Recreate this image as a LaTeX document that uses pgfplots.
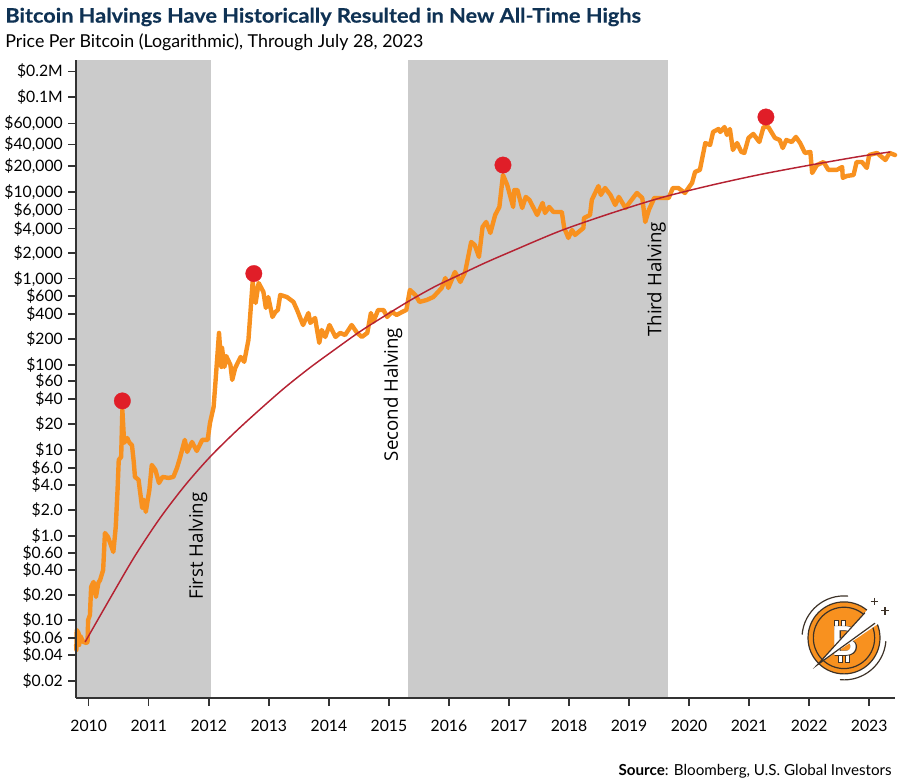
\documentclass[border=0pt]{standalone}
\usepackage{fontspec}
\setmainfont{Lato}
\newfontfamily\titlefont[BoldFeatures={FakeStretch=1.085,FakeBold=0.4}]{Lato}
\newfontfamily\notefont{Open Sans}
\newfontfamily\logoB[BoldFeatures={FakeBold=2.5}]{Lato}
\usepackage{pgfplots}
\pgfplotsset{compat=1.18}
\usetikzlibrary{calc}
\definecolor{navy}{HTML}{0F3254}
\definecolor{band}{HTML}{CBCBCB}
\definecolor{btc}{HTML}{F8911F}
\definecolor{trend}{HTML}{B52232}
\definecolor{peak}{HTML}{E01E28}
\definecolor{axisdark}{HTML}{333333}
\definecolor{logoline}{HTML}{3D3228}

% year  price
\pgfplotstableread{
x y
2009.79 0.0527
2009.795 0.0461
2009.80 0.0789
2009.83 0.0728
2009.84 0.0527
2009.86 0.0671
2009.91 0.0571
2009.96 0.0556
2009.98 0.0571
2009.99 0.103
2010.02 0.118
2010.04 0.251
2010.08 0.287
2010.12 0.192
2010.16 0.279
2010.19 0.303
2010.24 0.396
2010.27 1.07
2010.32 0.964
2010.41 0.643
2010.45 1.26
2010.48 3.41
2010.50 7.64
2010.54 8.28
2010.56 29.3
2010.59 12.1
2010.64 13.8
2010.68 12.1
2010.72 11.4
2010.75 7.24
2010.77 4.84
2010.83 4.47
2010.89 2.10
2010.92 2.61
2010.95 1.89
2011.01 3.41
2011.05 6.68
2011.11 5.84
2011.17 4.11
2011.23 4.84
2011.33 4.71
2011.41 4.84
2011.47 6.17
2011.52 8.07
2011.60 13.1
2011.64 9.48
2011.72 12.4
2011.80 9.73
2011.89 13.1
2011.98 13.1
2012.02 20.7
2012.08 31.8
2012.11 60.7
2012.17 233
2012.21 93.3
2012.22 156
2012.26 93.3
2012.29 125
2012.36 98.4
2012.39 65.8
2012.44 90.8
2012.53 122
2012.59 107
2012.66 193
2012.70 469
2012.73 918
2012.78 521
2012.83 893
2012.91 701
2012.95 456
2012.99 612
2013.06 358
2013.11 409
2013.15 432
2013.19 647
2013.30 612
2013.41 536
2013.47 432
2013.57 288
2013.66 398
2013.69 305
2013.77 348
2013.84 178
2013.88 252
2013.94 209
2014.01 288
2014.11 209
2014.19 233
2014.27 220
2014.38 288
2014.47 233
2014.55 209
2014.64 233
2014.70 398
2014.74 313
2014.82 432
2014.91 432
2014.97 358
2015.05 409
2015.13 378
2015.22 409
2015.29 432
2015.35 740
2015.44 647
2015.51 536
2015.63 565
2015.74 612
2015.88 782
2015.94 1020
2015.99 782
2016.10 1200
2016.19 918
2016.27 1200
2016.37 2690
2016.43 2480
2016.50 1800
2016.56 4030
2016.62 4610
2016.69 3430
2016.77 5560
2016.84 6900
2016.90 16300
2016.97 12500
2017.07 6900
2017.09 10900
2017.14 10900
2017.22 6710
2017.28 9040
2017.34 8340
2017.47 5560
2017.56 7690
2017.60 5870
2017.67 6900
2017.74 6030
2017.88 6030
2017.92 3920
2017.99 3000
2018.05 3720
2018.10 3250
2018.24 3920
2018.25 5130
2018.35 5560
2018.38 8340
2018.49 12100
2018.53 9530
2018.60 11500
2018.69 9530
2018.77 7280
2018.83 9040
2018.94 6710
2019.13 10050
2019.22 8790
2019.27 4610
2019.33 6370
2019.42 8790
2019.66 8790
2019.73 11500
2019.82 11500
2019.93 10050
2020.05 13200
2020.10 17700
2020.18 18700
2020.27 38500
2020.35 36600
2020.40 51900
2020.49 56200
2020.52 51900
2020.59 59300
2020.63 47900
2020.68 56200
2020.73 32000
2020.80 38500
2020.87 30300
2020.92 29500
2020.99 44200
2021.07 49200
2021.17 39600
2021.24 59300
2021.32 59300
2021.43 44200
2021.51 41800
2021.56 33700
2021.62 41800
2021.71 39600
2021.78 45400
2021.85 38500
2021.93 29500
2022.02 30300
2022.05 17200
2022.13 21300
2022.24 23100
2022.32 18700
2022.46 18700
2022.55 20200
2022.56 15100
2022.63 15900
2022.74 16300
2022.79 23100
2022.88 23100
2022.96 19700
2023.00 27900
2023.13 29500
2023.27 24400
2023.34 29500
2023.43 27900
}\pricetable

\pgfplotstableread{
x y
2009.94 0.0571
2010.36 0.1866
2010.77 0.578
2011.19 1.607
2011.61 3.90
2012.02 8.28
2012.44 16.2
2012.86 30.1
2013.27 53.7
2013.69 92.0
2014.11 151
2014.52 242
2014.94 372
2015.35 557
2015.77 813
2016.19 1122
2016.60 1531
2017.02 2056
2017.85 3614
2018.69 5794
2019.52 8790
2020.35 12300
2021.18 16500
2022.02 21300
2022.85 26900
2023.35 30300
}\trendtable

\pgfplotstableread{
x y
2010.56 37.4
2012.75 1150
2016.90 21300
2021.28 77600
}\peaktable

\begin{document}
\begin{tikzpicture}
\begin{scope}[x=0.75pt,y=-0.75pt,shift={(0pt,586.5pt)}]
\path[use as bounding box] (0,0) rectangle (900,782);
\node[anchor=west,text=navy,font=\titlefont\bfseries\fontsize{15pt}{18pt}\selectfont,inner sep=0pt] at (5,17)
  {Bitcoin Halvings Have Historically Resulted in New All-Time Highs};
\node[anchor=west,text=black,font=\fontsize{13.35pt}{15pt}\selectfont,inner sep=0pt] at (5,42)
  {Price Per Bitcoin (Logarithmic), Through July 28, 2023};
\end{scope}

\begin{axis}[
    at={(57pt,63pt)}, anchor=south west,
    scale only axis,
    width=614.25pt, height=478.5pt,
    ymode=log,
    xmin=2009.79, xmax=2023.43,
    ymin=0.01268, ymax=359700,
    axis lines*=left,
    axis line style={axisdark,line width=1.5pt,-},
    axis on top,
    tick style={axisdark,line width=1.1pt},
    tick align=outside,
    major tick length=6pt,
    minor tick length=0pt,
    xtick={2010,2011,...,2023},
    xticklabels={2010,2011,2012,2013,2014,2015,2016,2017,2018,2019,2020,2021,2022,2023},
    % the printed ticks sit off the true log scale near the top
    ytick={264000,133000,65600,37200,20800,10300,6410,3850,2000,1000,630,388,198,98,64,39.5,20,10,6.17,3.9,1.99,0.99,0.627,0.396,0.202,0.103,0.0637,0.0403,0.02},
    yticklabels={\$0.2M,\$0.1M,{\$60,000},{\$40,000},{\$20,000},{\$10,000},{\$6,000},{\$4,000},{\$2,000},{\$1,000},\$600,\$400,\$200,\$100,\$60,\$40,\$20,\$10,\$6.0,\$4.0,\$2.0,\$1.0,\$0.60,\$0.40,\$0.20,\$0.10,\$0.06,\$0.04,\$0.02},
    tick label style={font=\fontsize{11.8pt}{14pt}\selectfont,text=black},
    xticklabel style={yshift=-7pt},
    yticklabel style={xshift=-0.5pt},
    clip=false,
  ]
  \addplot[fill=band,draw=none] coordinates {(2009.79,0.01268) (2009.79,359700) (2012.03,359700) (2012.03,0.01268)} -- cycle;
  \addplot[fill=band,draw=none] coordinates {(2015.31,0.01268) (2015.31,359700) (2019.65,359700) (2019.65,0.01268)} -- cycle;
  \addplot[btc,line width=3.3pt,line join=round,line cap=round] table[x=x,y=y] {\pricetable};
  \addplot[trend,line width=1.1pt,smooth] table[x=x,y=y] {\trendtable};
  \addplot[only marks,peak,mark=*,mark size=6.2pt,mark options={fill=peak,draw=peak,line width=0.2pt}] table[x=x,y=y] {\peaktable};
\end{axis}

\begin{scope}[x=0.75pt,y=-0.75pt,shift={(0pt,586.5pt)}]
\node[rotate=90,anchor=center,font=\notefont\fontsize{14pt}{15pt}\selectfont,inner sep=0pt] at (198,546) {First Halving};
\node[rotate=90,anchor=center,font=\notefont\fontsize{14pt}{15pt}\selectfont,inner sep=0pt] at (393,394.5) {Second Halving};
\node[rotate=90,anchor=center,font=\notefont\fontsize{14pt}{15pt}\selectfont,inner sep=0pt] at (656.5,279.5) {Third Halving};

\node[anchor=east,font=\fontsize{11.4pt}{13pt}\selectfont,inner sep=0pt] at (892,771)
  {\textbf{Source}: Bloomberg, U.S. Global Investors};

% logo
\coordinate (c) at (844,638);
\fill[btc] (c) circle[radius=27pt];
\draw[logoline,line width=0.9pt] (c) circle[radius=27pt];
\draw[logoline,line width=0.9pt] (c) circle[radius=23pt];
\fill[white,draw=logoline,line width=0.7pt] (834.5,621) rectangle (838.5,630);
\fill[white,draw=logoline,line width=0.7pt] (841,621) rectangle (845,630);
\fill[white,draw=logoline,line width=0.7pt] (838.5,652) rectangle (842.5,663);
\fill[white,draw=logoline,line width=0.7pt] (845,652) rectangle (849,663);
\node[text=logoline,font=\logoB\bfseries\fontsize{30pt}{30pt}\selectfont,inner sep=0pt] at (845,641) {B};
\node[text=white,font=\bfseries\fontsize{30pt}{30pt}\selectfont,inner sep=0pt] at (845,641) {B};
\fill[white] (817.3,665) -- (870,607) -- (884,620) -- cycle;
\draw[logoline,line width=0.9pt] (865,612.7) -- (817.3,665) -- (875,623.3);
\draw[logoline,line width=0.9pt,line cap=round] ($(c)+(85:31.5pt)$) arc[start angle=85,end angle=175,radius=31.5pt];
\draw[logoline,line width=0.9pt,line cap=round] ($(c)+(-5:31.5pt)$) arc[start angle=-5,end angle=-95,radius=31.5pt];
\draw[logoline,line width=0.9pt] (870.5,601.7) -- (878.1,601.7) (874.3,597.9) -- (874.3,605.5);
\draw[logoline,line width=0.9pt] (881.2,611) -- (888.8,611) (885,607.2) -- (885,614.8);
\end{scope}
\end{tikzpicture}
\end{document}
